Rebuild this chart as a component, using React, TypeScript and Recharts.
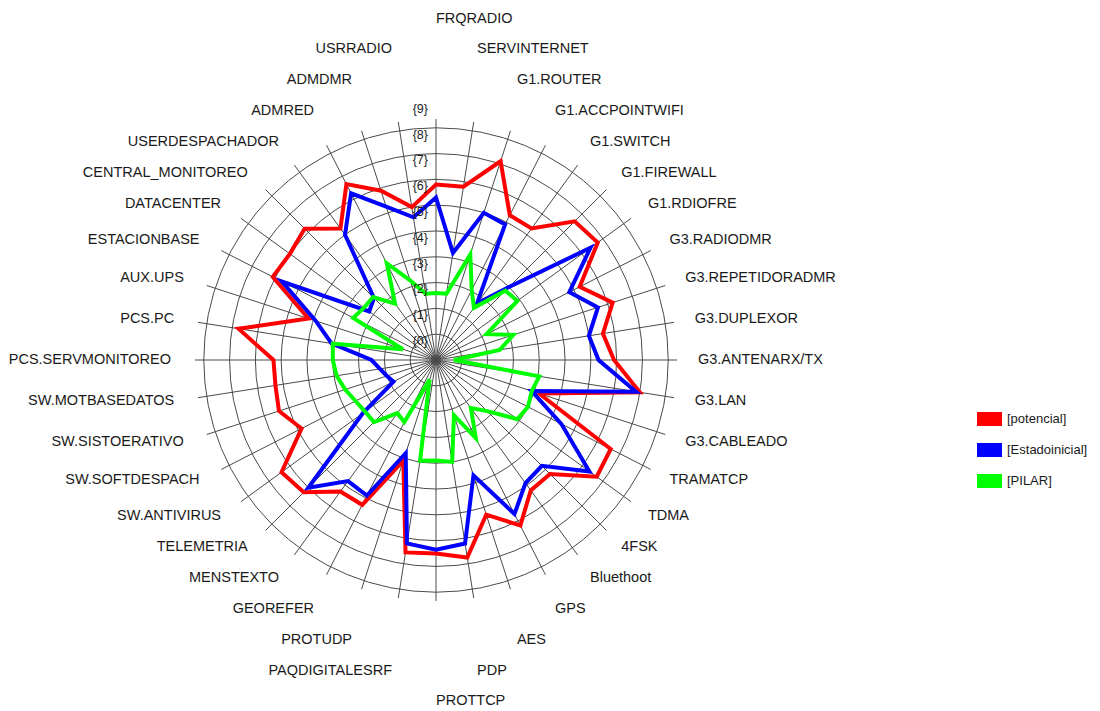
import { RadarChart, Radar, PolarGrid, PolarAngleAxis, PolarRadiusAxis, Legend } from "recharts"

if (typeof document !== "undefined") document.body.style.margin = "0"

const categories = [
  "FRQRADIO", "SERVINTERNET", "G1.ROUTER", "G1.ACCPOINTWIFI", "G1.SWITCH",
  "G1.FIREWALL", "G1.RDIOFRE", "G3.RADIODMR", "G3.REPETIDORADMR", "G3.DUPLEXOR",
  "G3.ANTENARX/TX", "G3.LAN", "G3.CABLEADO", "TRAMATCP", "TDMA",
  "4FSK", "Bluethoot", "GPS", "AES", "PDP",
  "PROTTCP", "PAQDIGITALESRF", "PROTUDP", "GEOREFER", "MENSTEXTO",
  "TELEMETRIA", "SW.ANTIVIRUS", "SW.SOFTDESPACH", "SW.SISTOERATIVO", "SW.MOTBASEDATOS",
  "PCS.SERVMONITOREO", "PCS.PC", "AUX.UPS", "ESTACIONBASE", "DATACENTER",
  "CENTRAL_MONITOREO", "USERDESPACHADOR", "ADMRED", "ADMDMR", "USRRADIO",
]

const potencial = [
  6.8, 6.8, 8.1, 6.3, 6.3, 7.6, 7.75, 6.25, 7.2, 6.55,
  6.9, 8.0, 4.2, 7.6, 7.7, 6.25, 6.25, 7.2, 6.3, 7.75,
  7.5, 7.55, 4.1, 6.3, 6.3, 7.25, 7.4, 5.85, 6.4, 6.3,
  6.3, 7.75, 5.2, 7.1, 7.0, 7.2, 6.3, 7.65, 6.9, 6.0,
]

const estadoInicial = [
  6.3, 4.2, 6.0, 5.9, 2.7, 4.0, 7.4, 5.8, 6.6, 6.0,
  6.3, 7.85, 3.9, 5.45, 7.35, 5.8, 5.9, 6.7, 4.7, 7.2,
  7.35, 7.2, 3.8, 5.9, 5.8, 7.0, 3.5, 1.85, 2.0, 2.2,
  2.5, 4.1, 4.9, 6.7, 3.2, 3.4, 6.0, 7.25, 6.25, 5.6,
]

const pilar = [
  2.6, 2.6, 4.3, 3.05, 2.5, 3.8, 3.9, 2.2, 3.15, 2.5,
  0.7, 4.05, 3.9, 4.0, 3.9, 2.8, 2.3, 3.4, 2.25, 4.0,
  3.9, 3.95, 0.8, 2.7, 2.55, 3.4, 3.4, 3.5, 3.7, 3.9,
  4.0, 4.05, 1.35, 3.6, 3.45, 3.45, 2.7, 4.2, 3.25, 2.6,
]

const ringTicks = [0, 1, 2, 3, 4, 5, 6, 7, 8, 9]

const seriesNames = ["[potencial]", "[Estadoinicial]", "[PILAR]"]
const seriesKeys = ["potencial", "estadoInicial", "pilar"]
const seriesColors = ["#ff0000", "#0000ff", "#00ff00"]

const data = categories.map((name, i) => ({
  name,
  potencial: potencial[i],
  estadoInicial: estadoInicial[i],
  pilar: pilar[i],
}))

const W = 1100
const H = 711
const CX = 436
const CY = 360
const RING_STEP = 25.8
const OUTER = 241
const FONT = "'Liberation Sans', Arial, sans-serif"

// labels sit on an ellipse, pushed apart vertically so they never overlap
const LABEL_RX = 262
const LABEL_RY = 265
const LABEL_CY = 359
const LABEL_GAP = 30.8

function layoutLabels(n: number) {
  const pos = Array.from({ length: n }, (_, i) => {
    const a = (i / n) * 2 * Math.PI
    const right = i <= n / 2
    return {
      x: CX + Math.sin(a) * LABEL_RX + (right ? 0 : -3),
      y: LABEL_CY - Math.cos(a) * LABEL_RY,
      anchor: right ? "start" : "end",
    }
  })
  const q = n / 4
  const h = n / 2
  const tq = (3 * n) / 4
  for (let i = q - 1; i >= 0; i--) pos[i].y = Math.min(pos[i].y, pos[i + 1].y - LABEL_GAP)
  for (let i = q + 1; i <= h; i++) pos[i].y = Math.max(pos[i].y, pos[i - 1].y + LABEL_GAP)
  for (let i = tq + 1; i < n; i++) pos[i].y = Math.min(pos[i].y, pos[i - 1].y - LABEL_GAP)
  for (let i = tq - 1; i > h; i--) pos[i].y = Math.max(pos[i].y, pos[i + 1].y + LABEL_GAP)
  return pos
}

const LABEL_POS = layoutLabels(categories.length)

function AngleTick(props: any) {
  const i = categories.indexOf(props.payload.value)
  const p = LABEL_POS[i]
  return (
    <text
      x={p.x}
      y={p.y}
      textAnchor={p.anchor}
      dominantBaseline="central"
      fontSize={14.5}
      fontFamily={FONT}
      fill="#1a1a1a"
    >
      {props.payload.value}
    </text>
  )
}

function RadiusTick(props: any) {
  const { x, y, payload } = props
  return (
    <text
      x={x - 8}
      y={y - 19}
      textAnchor="end"
      dominantBaseline="central"
      fontSize={12.5}
      fontFamily={FONT}
      fill="#1a1a1a"
    >
      {`{${payload.value}}`}
    </text>
  )
}

function renderLegend() {
  return (
    <div style={{ fontFamily: FONT, fontSize: 13, color: "#1a1a1a" }}>
      {seriesNames.map((name, i) => (
        <div key={name} style={{ display: "flex", alignItems: "center", height: 31 }}>
          <span
            style={{
              display: "inline-block",
              width: 25,
              height: 14,
              background: seriesColors[i],
              marginRight: 5,
            }}
          />
          <span>{name}</span>
        </div>
      ))}
    </div>
  )
}

export default function App() {
  return (
    <div style={{ width: W, height: H, background: "#fff", position: "relative" }}>
      <RadarChart width={W} height={H} data={data} cx={CX} cy={CY} outerRadius={OUTER}>
        <PolarGrid gridType="circle" stroke="#4a4a4a" strokeWidth={1} />
        <PolarAngleAxis dataKey="name" tick={<AngleTick />} tickLine={false} axisLine={false} />
        <PolarRadiusAxis
          angle={90}
          type="number"
          domain={[0, OUTER / RING_STEP]}
          ticks={ringTicks}
          tick={<RadiusTick />}
          axisLine={false}
          tickLine={false}
        />
        {seriesKeys.map((key, i) => (
          <Radar
            key={key}
            name={seriesNames[i]}
            dataKey={key}
            stroke={seriesColors[i]}
            strokeWidth={4}
            strokeLinejoin="miter"
            fill="none"
            dot={false}
            isAnimationActive={false}
          />
        ))}
        <Legend
          layout="vertical"
          align="left"
          verticalAlign="top"
          content={renderLegend}
          wrapperStyle={{ position: "absolute", left: 977, top: 403, width: 130 }}
        />
      </RadarChart>
    </div>
  )
}
